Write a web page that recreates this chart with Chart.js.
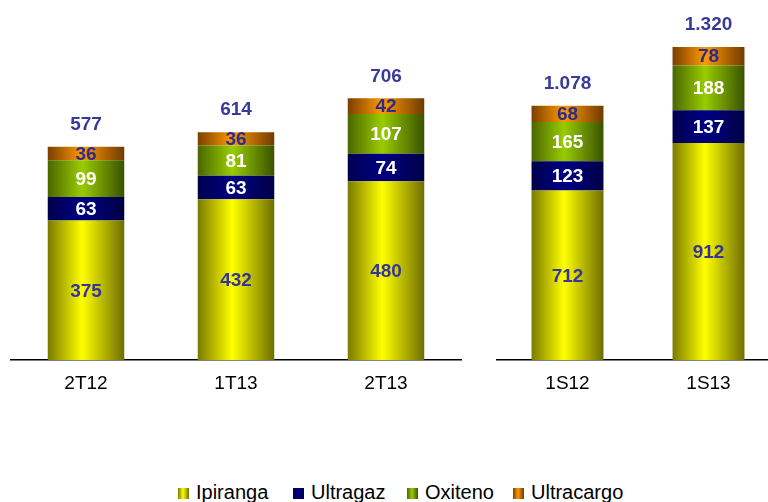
<!DOCTYPE html>
<html>
<head>
<meta charset="utf-8">
<script src="https://cdn.jsdelivr.net/npm/chart.js@4.4.0/dist/chart.umd.min.js"></script>
<style>
  html, body { margin: 0; padding: 0; background: #fff; overflow: hidden; width: 768px; height: 502px; }
  canvas { position: absolute; top: 0; }
  #left { left: 0; }
  #right { left: 486px; }
  .item { position: absolute; top: 481px; font: 20px "Liberation Sans", Arial, sans-serif; color: #000; white-space: nowrap; }
  .sw { display: inline-block; width: 11px; height: 11px; margin-right: 7px; vertical-align: 0px; }
</style>
</head>
<body>
<canvas id="left" width="470" height="410"></canvas>
<canvas id="right" width="304" height="410"></canvas>
<div id="legend"></div>
<script>
// data
const quarters = ['2T12', '1T13', '2T13'];
const semesters = ['1S12', '1S13'];
const seriesNames = ['Ipiranga', 'Ultragaz', 'Oxiteno', 'Ultracargo'];

const ipirangaQ = [375, 432, 480];
const ultragazQ = [63, 63, 74];
const oxitenoQ = [99, 81, 107];
const ultracargoQ = [36, 36, 42];
const totalsQ = [577, 614, 706];

const ipirangaS = [712, 912];
const ultragazS = [123, 137];
const oxitenoS = [165, 188];
const ultracargoS = [68, 78];
const totalsS = [1078, 1320];

// look
const shades = [
  ['#7a7a00', '#ffff00', '#6e6e00'],
  ['#00004e', '#000084', '#000046'],
  ['#4a6600', '#99cc00', '#3a5200'],
  ['#7a3f00', '#ff9900', '#703a00']
];
const labelColors = ['#35359a', '#ffffff', '#ffffff', '#2c2c8c'];
const barPct = 0.51;
const font = '"Liberation Sans", Arial, sans-serif';

function fmt(n) {
  return String(n).replace(/\B(?=(\d{3})+(?!\d))/g, '.');
}

function barGradient(c, cols) {
  const chart = c.chart;
  const area = chart.chartArea;
  if (!area || c.dataIndex === undefined) return cols[1];
  const cw = area.width / chart.data.labels.length;
  const bw = cw * barPct;
  const cx = chart.scales.x.getPixelForValue(c.dataIndex);
  const g = chart.ctx.createLinearGradient(cx - bw / 2, 0, cx + bw / 2, 0);
  g.addColorStop(0, cols[0]);
  g.addColorStop(0.45, cols[1]);
  g.addColorStop(1, cols[2]);
  return g;
}

const valueLabels = {
  id: 'valueLabels',
  afterDatasetsDraw(chart, args, opts) {
    const ctx = chart.ctx;
    ctx.save();
    ctx.textAlign = 'center';
    ctx.textBaseline = 'middle';
    ctx.font = 'bold 19px ' + font;
    chart.data.datasets.forEach((ds, i) => {
      const meta = chart.getDatasetMeta(i);
      ctx.fillStyle = labelColors[i];
      meta.data.forEach((bar, j) => {
        ctx.fillText(ds.data[j], bar.x, (bar.y + bar.base) / 2 + 1);
      });
    });
    const top = chart.getDatasetMeta(chart.data.datasets.length - 1);
    ctx.fillStyle = '#3a3a9c';
    top.data.forEach((bar, j) => {
      ctx.fillText(fmt(opts.totals[j]), bar.x, bar.y - 22);
    });
    ctx.restore();
  }
};

function makeChart(id, labels, series, totals, yMax, pad) {
  return new Chart(document.getElementById(id), {
    type: 'bar',
    data: {
      labels: labels,
      datasets: series.map((vals, i) => ({
        label: seriesNames[i],
        data: vals,
        backgroundColor: c => barGradient(c, shades[i]),
        borderWidth: 0,
        categoryPercentage: 1,
        barPercentage: barPct
      }))
    },
    options: {
      responsive: false,
      animation: false,
      layout: { padding: pad },
      plugins: {
        legend: { display: false },
        tooltip: { enabled: false },
        valueLabels: { totals: totals }
      },
      scales: {
        x: {
          stacked: true,
          grid: { display: false, drawTicks: false },
          border: { display: true, color: '#000', width: 1.5 },
          ticks: { color: '#000', padding: 12, font: { size: 19, family: font } }
        },
        y: { stacked: true, display: false, min: 0, max: yMax }
      }
    },
    plugins: [valueLabels]
  });
}

makeChart('left', quarters, [ipirangaQ, ultragazQ, oxitenoQ, ultracargoQ], totalsQ, 940,
  { left: 11, right: 9, top: 10, bottom: 3 });
makeChart('right', semesters, [ipirangaS, ultragazS, oxitenoS, ultracargoS], totalsS, 1470,
  { left: 11, right: 11, top: 10, bottom: 3 });

// legend
const legendX = [178, 293, 407, 513];
const legend = document.getElementById('legend');
seriesNames.forEach((name, i) => {
  const d = document.createElement('div');
  d.className = 'item';
  d.style.left = legendX[i] + 'px';
  const s = document.createElement('span');
  s.className = 'sw';
  s.style.background = 'linear-gradient(to right,' + shades[i][0] + ',' + shades[i][1] + ' 45%,' + shades[i][2] + ')';
  d.appendChild(s);
  d.appendChild(document.createTextNode(name));
  legend.appendChild(d);
});
</script>
</body>
</html>
